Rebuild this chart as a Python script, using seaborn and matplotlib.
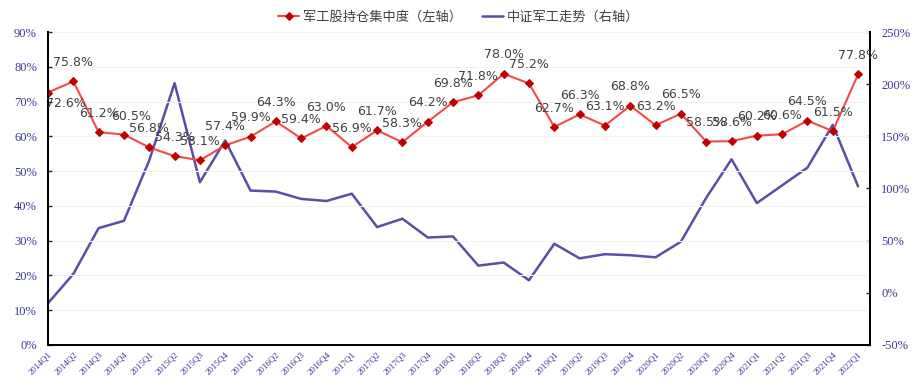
import numpy as np
import pandas as pd
import matplotlib
matplotlib.use("Agg")
import matplotlib.pyplot as plt
import seaborn as sns
from matplotlib.ticker import FuncFormatter

# ---------------------------------------------------------
# DATA
# ---------------------------------------------------------
quarters = [
    "2014Q1", "2014Q2", "2014Q3", "2014Q4",
    "2015Q1", "2015Q2", "2015Q3", "2015Q4",
    "2016Q1", "2016Q2", "2016Q3", "2016Q4",
    "2017Q1", "2017Q2", "2017Q3", "2017Q4",
    "2018Q1", "2018Q2", "2018Q3", "2018Q4",
    "2019Q1", "2019Q2", "2019Q3", "2019Q4",
    "2020Q1", "2020Q2", "2020Q3", "2020Q4",
    "2021Q1", "2021Q2", "2021Q3", "2021Q4",
    "2022Q1",
]

# 军工股持仓集中度 (left axis, %)
concentration = [
    72.6, 75.8, 61.2, 60.5, 56.8, 54.3, 53.1, 57.4,
    59.9, 64.3, 59.4, 63.0, 56.9, 61.7, 58.3, 64.2,
    69.8, 71.8, 78.0, 75.2, 62.7, 66.3, 63.1, 68.8,
    63.2, 66.5, 58.5, 58.6, 60.2, 60.6, 64.5, 61.5,
    77.8,
]

# 中证军工走势 (right axis, %)
index_trend = [
    -10, 18, 62, 69, 127, 201, 106, 146,
    98, 97, 90, 88, 95, 63, 71, 53,
    54, 26, 29, 12, 47, 33, 37, 36,
    34, 49, 91, 128, 86, 103, 120, 161,
    102,
]

left_ticks = list(range(0, 91, 10))
right_ticks = list(range(-50, 251, 50))

label_left = "军工股持仓集中度（左轴）"
label_right = "中证军工走势（右轴）"

df = pd.DataFrame({
    "pos": np.arange(len(quarters)),
    "quarter": quarters,
    "concentration": concentration,
    "index_trend": index_trend,
})

# ---------------------------------------------------------
# STYLE
# ---------------------------------------------------------
sns.set_style("white")
plt.rcParams["font.family"] = ["Noto Sans CJK SC", "DejaVu Sans"]

RED_LINE = "#f24a4a"
RED_MARK = "#c00000"
BLUE = "#5a4fa6"
TICK_BLUE = "#3a3a96"
LABEL_GRAY = "#404040"

fig = plt.figure(figsize=(9.18, 3.88), dpi=100)
ax = fig.add_axes([0.0523, 0.111, 0.8954, 0.8065])
ax2 = ax.twinx()

# right axis series first (drawn beneath the red line)
sns.lineplot(data=df, x="pos", y="index_trend", ax=ax2, color=BLUE,
             linewidth=1.8, label=label_right, legend=False)
sns.lineplot(data=df, x="pos", y="concentration", ax=ax, color=RED_LINE,
             linewidth=1.5, marker="D", markersize=4.5,
             markerfacecolor=RED_MARK, markeredgecolor=RED_MARK,
             label=label_left, legend=False)

ax.set_zorder(ax2.get_zorder() + 1)
ax.patch.set_visible(False)

# data labels
offsets = {0: (13, -8), 3: (5, 13)}
for i, v in enumerate(concentration):
    dx, dy = offsets.get(i, (0, 13.5))
    ax.annotate(f"{v:.1f}%", (i, v), xytext=(dx, dy), textcoords="offset points",
                ha="center", va="center", fontsize=9, color=LABEL_GRAY,
                family=["DejaVu Sans"])

# axes limits / ticks
ax.set_xlim(0, len(quarters) - 1 + 0.47)
ax.set_ylim(0, 90)
ax2.set_ylim(-50, 250)
ax.set_yticks(left_ticks)
ax2.set_yticks(right_ticks)
pct = FuncFormatter(lambda v, p: f"{v:.0f}%")
ax.yaxis.set_major_formatter(pct)
ax2.yaxis.set_major_formatter(pct)

ax.set_xticks(df["pos"])
ax.set_xticklabels(quarters, rotation=45, ha="right", rotation_mode="anchor",
                   fontsize=6.5, color=TICK_BLUE, family="Liberation Serif")
for lab in ax.get_yticklabels():
    lab.set_family("Liberation Serif")
for lab in ax2.get_yticklabels():
    lab.set_family("Liberation Serif")
ax.tick_params(axis="y", labelsize=9, labelcolor=TICK_BLUE, direction="in",
               length=3, width=1, pad=8)
ax2.tick_params(axis="y", labelsize=9, labelcolor=TICK_BLUE, direction="in",
                length=3, width=1, pad=8)
ax.tick_params(axis="x", direction="in", length=3, width=1, pad=4)

ax.set_xlabel("")
ax.set_ylabel("")
ax2.set_ylabel("")

for a in (ax, ax2):
    a.spines["top"].set_visible(False)
    for s in ("left", "right", "bottom"):
        a.spines[s].set_color("black")
        a.spines[s].set_linewidth(1.4)

ax.grid(axis="y", color="#f2f2f2", linewidth=0.8)

# legend
h1, l1 = ax.get_legend_handles_labels()
h2, l2 = ax2.get_legend_handles_labels()
fig.legend(h1 + h2, l1 + l2, loc="center", bbox_to_anchor=(0.5, 0.956),
           ncol=2, frameon=False, fontsize=9.5, labelcolor=LABEL_GRAY,
           handlelength=1.6, handletextpad=0.3, columnspacing=1.5)

fig.savefig("out.png", dpi=100)
